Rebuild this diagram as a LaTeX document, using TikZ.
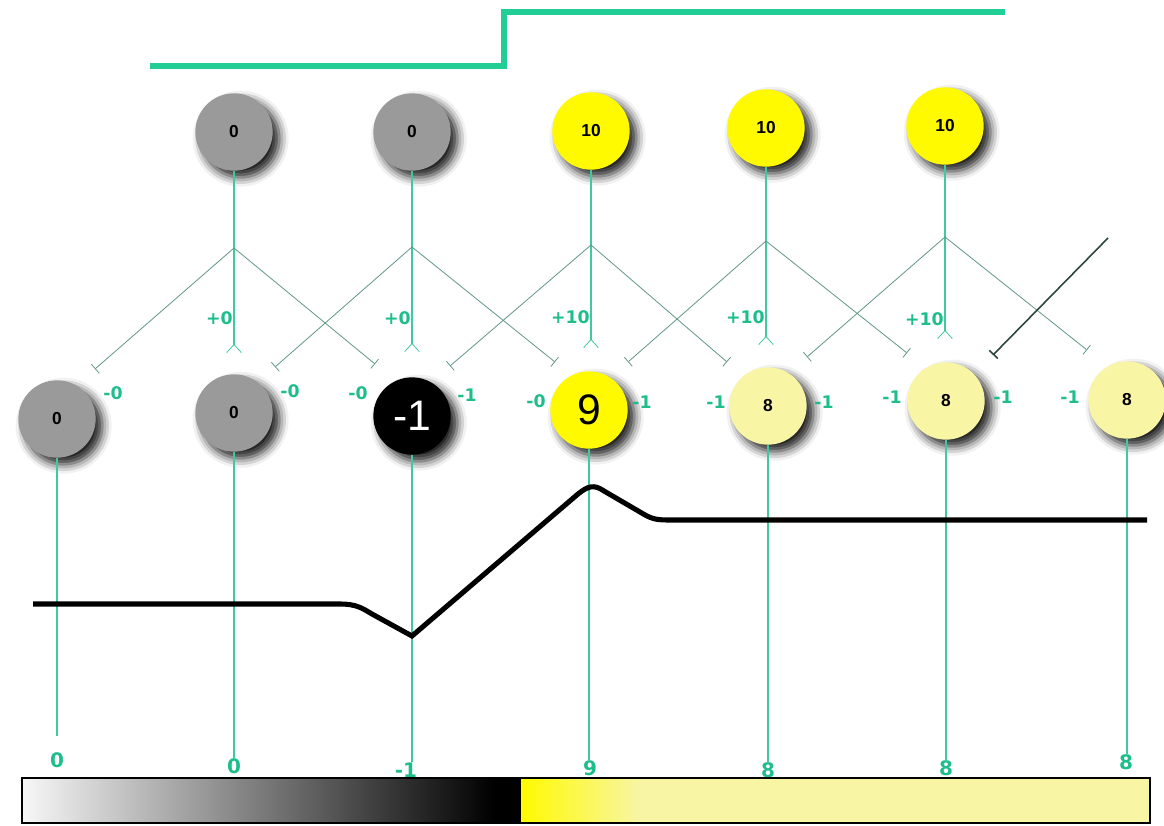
\documentclass[tikz,border=0pt]{standalone}
\usepackage{fontspec}
\setmainfont{Liberation Sans}
\newfontfamily\labfont{DejaVu Sans}
\usepackage{xcolor}
\usetikzlibrary{arrows.meta, shadows.blur, positioning}

\definecolor{stepgreen}{RGB}{32,206,150}
\definecolor{wire}{RGB}{64,200,160}
\definecolor{thinwire}{RGB}{96,150,132}
\definecolor{darkwire}{RGB}{45,70,62}
\definecolor{labgreen}{RGB}{30,190,140}
\definecolor{cellgray}{RGB}{154,154,154}
\definecolor{paleyellow}{RGB}{248,245,165}
\definecolor{brightyellow}{RGB}{255,250,0}

\begin{document}
\begin{tikzpicture}[x=0.75pt, y=-0.75pt,
  cell/.style={circle, minimum size=58pt, inner sep=0pt, font=\bfseries\fontsize{13}{13}\selectfont,
    blur shadow={shadow xshift=5pt, shadow yshift=-5pt, shadow blur radius=7pt, shadow opacity=90}},
  bigcell/.style={cell, font=\fontsize{32}{32}\selectfont},
  lab/.style={inner sep=0pt, text=labgreen, font=\labfont\bfseries\fontsize{13}{13}\selectfont},
  vallab/.style={lab, font=\labfont\bfseries\fontsize{15}{15}\selectfont},
  vline/.style={wire, line width=1pt},
  tapline/.style={vline, -{Straight Barb[reversed, length=6pt, width=11pt, line width=0.6pt]}},
  diag/.style={thinwire, line width=0.6pt, -{Bar[width=9pt]}},
  steps/.style={stepgreen, line width=4.5pt},
  curve/.style={black, line width=3.8pt}
]
  \useasboundingbox (0,0) rectangle (1164,825);

  \draw[steps] (150,66) -- (504,66) -- (504,12) -- (1005,12);

  \node[cell, fill=cellgray]     (top1) at (234,132) {0};
  \node[cell, fill=cellgray]     (top2) at (412,132) {0};
  \node[cell, fill=brightyellow] (top3) at (591,131) {10};
  \node[cell, fill=brightyellow] (top4) at (766,128) {10};
  \node[cell, fill=brightyellow] (top5) at (945,126) {10};

  \node[cell, fill=cellgray]             (bot1) at (57,419)   {0};
  \node[cell, fill=cellgray]             (bot2) at (234,413)  {0};
  \node[bigcell, fill=black, text=white] (bot3) at (412,416)  {-1};
  \node[bigcell, fill=brightyellow]      (bot4) at (589,410)  {9};
  \node[cell, fill=paleyellow]           (bot5) at (768,406)  {8};
  \node[cell, fill=paleyellow]           (bot6) at (946,401)  {8};
  \node[cell, fill=paleyellow]           (bot7) at (1127,400) {8};

  \coordinate (sp1) at (234,248);
  \coordinate (sp2) at (412,247);
  \coordinate (sp3) at (591,245);
  \coordinate (sp4) at (766,241);
  \coordinate (sp5) at (945,237);
  \coordinate (fk1) at (234,353);
  \coordinate (fk2) at (412,352);
  \coordinate (fk3) at (591,348);
  \coordinate (fk4) at (766,345);
  \coordinate (fk5) at (945,339);

  \coordinate (eL1) at (95,369);   \coordinate (eR1) at (375,364);
  \coordinate (eL2) at (275,367);  \coordinate (eR2) at (555,362);
  \coordinate (eL3) at (450,366);  \coordinate (eR3) at (727,362);
  \coordinate (eL4) at (628,362);  \coordinate (eR4) at (907,353);
  \coordinate (eL5) at (807,357);  \coordinate (eR5) at (1087,350);
  \coordinate (darkA) at (1108,238);
  \coordinate (darkB) at (993,355);

  \draw[tapline] (top1) -- (fk1);
  \draw[tapline] (top2) -- (fk2);
  \draw[tapline] (top3) -- (fk3);
  \draw[tapline] (top4) -- (fk4);
  \draw[tapline] (top5) -- (fk5);

  \draw[diag] (sp1) -- (eL1);  \draw[diag] (sp1) -- (eR1);
  \draw[diag] (sp2) -- (eL2);  \draw[diag] (sp2) -- (eR2);
  \draw[diag] (sp3) -- (eL3);  \draw[diag] (sp3) -- (eR3);
  \draw[diag] (sp4) -- (eL4);  \draw[diag] (sp4) -- (eR4);
  \draw[diag] (sp5) -- (eL5);  \draw[diag] (sp5) -- (eR5);
  \draw[diag, darkwire, line width=1.2pt] (darkA) -- (darkB);

  \node[lab, anchor=east] (plus1) at (233,318) {+0};
  \node[lab, anchor=east] (plus2) at (411,318) {+0};
  \node[lab, anchor=east] (plus3) at (590,317) {+10};
  \node[lab, anchor=east] (plus4) at (765,317) {+10};
  \node[lab, anchor=east] (plus5) at (944,319) {+10};

  \node[lab] (minus1)  at (113,393)  {-0};
  \node[lab] (minus2)  at (290,391)  {-0};
  \node[lab] (minus3)  at (358,393)  {-0};
  \node[lab] (minus4)  at (467,395)  {-1};
  \node[lab] (minus5)  at (536,401)  {-0};
  \node[lab] (minus6)  at (642,402)  {-1};
  \node[lab] (minus7)  at (716,402)  {-1};
  \node[lab] (minus8)  at (824,402)  {-1};
  \node[lab] (minus9)  at (892,397)  {-1};
  \node[lab] (minus10) at (1003,397) {-1};
  \node[lab] (minus11) at (1070,397) {-1};

  \node[vallab] (val1) at (57,760)   {0};
  \node[vallab] (val2) at (234,766)  {0};
  \node[vallab] (val3) at (406,770)  {-1};
  \node[vallab] (val4) at (590,768)  {9};
  \node[vallab] (val5) at (768,770)  {8};
  \node[vallab] (val6) at (946,768)  {8};
  \node[vallab] (val7) at (1126,762) {8};

  \draw[vline, shorten >=12pt] (bot1) -- (bot1 |- val1.north);
  \draw[vline] (bot2) -- (bot2 |- val2.north);
  \draw[vline] (bot3) -- (bot3 |- val3.north);
  \draw[vline] (bot4) -- (bot4 |- val4.north);
  \draw[vline] (bot5) -- (bot5 |- val5.north);
  \draw[vline] (bot6) -- (bot6 |- val6.north);
  \draw[vline] (bot7) -- (bot7 |- val7.north);

  \draw[curve] (33,604) -- (340,604) .. controls (356,604) and (362,608) .. (372,614)
    -- (412,636) -- (578,494) .. controls (588,486) and (594,484) .. (604,491)
    -- (640,512) .. controls (650,518) and (654,520) .. (668,520) -- (1147,520);

  \shade[left color=gray!6, right color=black] (22,778) rectangle (495,823);
  \fill[black] (495,778) rectangle (521,823);
  \shade[left color=brightyellow, right color=paleyellow] (521,778) rectangle (640,823);
  \fill[paleyellow] (640,778) rectangle (1150,823);
  \draw[line width=0.8pt] (22,778) rectangle (1150,823);
\end{tikzpicture}
\end{document}
